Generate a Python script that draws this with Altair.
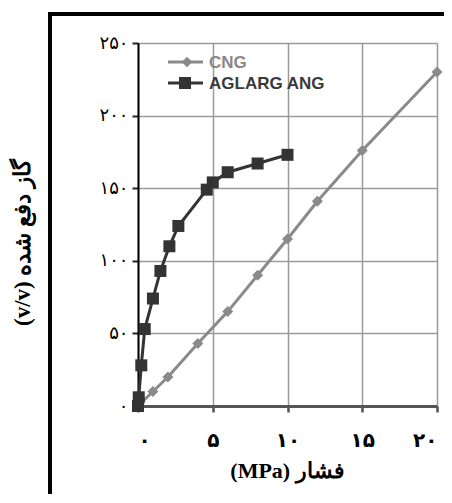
import altair as alt
import pandas as pd

# ---- data ----
series_names = ["CNG", "AGLARG ANG"]
cng_x = [0, 1, 2, 4, 6, 8, 10, 12, 15, 20]
cng_y = [0, 10, 20, 43, 65, 90, 115, 141, 176, 230]
ang_x = [0, 0.05, 0.22, 0.45, 1.0, 1.5, 2.1, 2.7, 4.6, 5.0, 6.0, 8.0, 10.0]
ang_y = [0, 6, 28, 53, 74, 93, 110, 124, 149, 154, 161, 167, 173]

x_ticks = [0, 5, 10, 15, 20]
x_tick_labels = ["۰", "۵", "۱۰", "۱۵", "۲۰"]
y_ticks = [0, 50, 100, 150, 200, 250]
y_tick_labels = ["۰", "۵۰", "۱۰۰", "۱۵۰", "۲۰۰", "۲۵۰"]

# written so that the LTR SVG context shows them as in the reference
x_title = "(MPa) فشار"
y_title = "(v/v) گاز دفع شده"

colors = ["#8a8a8a", "#333333"]

cng = pd.DataFrame({"p": cng_x, "v": cng_y, "s": series_names[0]})
ang = pd.DataFrame({"p": ang_x, "v": ang_y, "s": series_names[1]})


def label_expr(vals, labels):
    arr_v = "[" + ",".join(str(v) for v in vals) + "]"
    arr_l = "[" + ",".join("'" + l + "'" for l in labels) + "]"
    return f"{arr_l}[indexof({arr_v}, datum.value)]"


title_font = "Liberation Serif"
x_axis = alt.Axis(
    values=x_ticks, labelExpr=label_expr(x_ticks, x_tick_labels),
    grid=True, gridColor="#9a9a9a", gridWidth=1.5,
    domainColor="#555555", domainWidth=3, tickColor="#555555", tickWidth=2.5, tickSize=6,
    labelFont="DejaVu Sans", labelFontWeight="bold", labelFontSize=20, labelColor="black",
    labelBaseline="middle", labelPadding=28,
    title=x_title, titleFont=title_font, titleFontWeight="bold", titleFontSize=22,
    titleColor="black", titleX=149, titleY=64, titleBaseline="middle", titleAlign="center",
)
y_axis = alt.Axis(
    values=y_ticks, labelExpr=label_expr(y_ticks, y_tick_labels),
    grid=True, gridColor="#9a9a9a", gridWidth=1.5,
    domainColor="black", domainWidth=2, tickColor="#222222", tickWidth=2, tickSize=6,
    labelFont="DejaVu Sans", labelFontSize=18, labelColor="black", labelPadding=4,
    title=y_title, titleFont=title_font, titleFontWeight="bold", titleFontSize=23,
    titleColor="black", titleX=-116, titleY=199, titleAngle=-90,
    titleBaseline="middle", titleAlign="center",
)

xs = alt.Scale(domain=[0, 20], nice=False)
ys = alt.Scale(domain=[0, 250], nice=False)

base_cng = alt.Chart(cng)
base_ang = alt.Chart(ang)

cng_line = base_cng.mark_line(color=colors[0], strokeWidth=3).encode(
    x=alt.X("p:Q", scale=xs, axis=x_axis), y=alt.Y("v:Q", scale=ys, axis=y_axis)
)
cng_pts = base_cng.mark_point(shape="diamond", filled=True, size=121, color=colors[0], opacity=1).encode(
    x=alt.X("p:Q", scale=xs), y=alt.Y("v:Q", scale=ys)
)
ang_line = base_ang.mark_line(color=colors[1], strokeWidth=3).encode(
    x=alt.X("p:Q", scale=xs), y=alt.Y("v:Q", scale=ys)
)
ang_pts = base_ang.mark_point(shape="square", filled=True, size=144, color=colors[1], opacity=1).encode(
    x=alt.X("p:Q", scale=xs), y=alt.Y("v:Q", scale=ys)
)

# ---- manual legend ----
leg = alt.Chart(pd.DataFrame({"a": [0]}))
legend_layers = []
for i, (name, col, shp, sz) in enumerate(zip(series_names, colors, ["diamond", "square"], [110, 144])):
    yy = 19 + 21 * i
    legend_layers.append(leg.mark_rule(color=col, strokeWidth=3).encode(
        x=alt.value(30), x2=alt.value(65), y=alt.value(yy)))
    legend_layers.append(leg.mark_point(shape=shp, filled=True, size=sz, color=col, opacity=1).encode(
        x=alt.value(49 - 2 * i), y=alt.value(yy)))
    legend_layers.append(leg.mark_text(text=name, align="left", baseline="middle", font="Liberation Sans",
                                       fontWeight="bold", fontSize=17,
                                       color=("#888888" if i == 0 else "#3a3a3a")).encode(
        x=alt.value(71), y=alt.value(yy + 1)))

# ---- outer black frame ----
frame_left = leg.mark_rule(color="black", strokeWidth=4).encode(
    x=alt.value(-88), y=alt.value(-31), y2=alt.value(470))
frame_top = leg.mark_rule(color="black", strokeWidth=4).encode(
    x=alt.value(-90), x2=alt.value(330), y=alt.value(-29))

chart = alt.layer(
    cng_line, cng_pts, ang_line, ang_pts, *legend_layers, frame_left, frame_top
).properties(
    width=299, height=363,
    padding={"left": 130, "top": 35, "right": 7, "bottom": 88},
    autosize=alt.AutoSizeParams(type="none"),
).configure_view(stroke=None).configure(background="white")

chart.save("out.html", embed_options={"renderer": "svg", "actions": False})
